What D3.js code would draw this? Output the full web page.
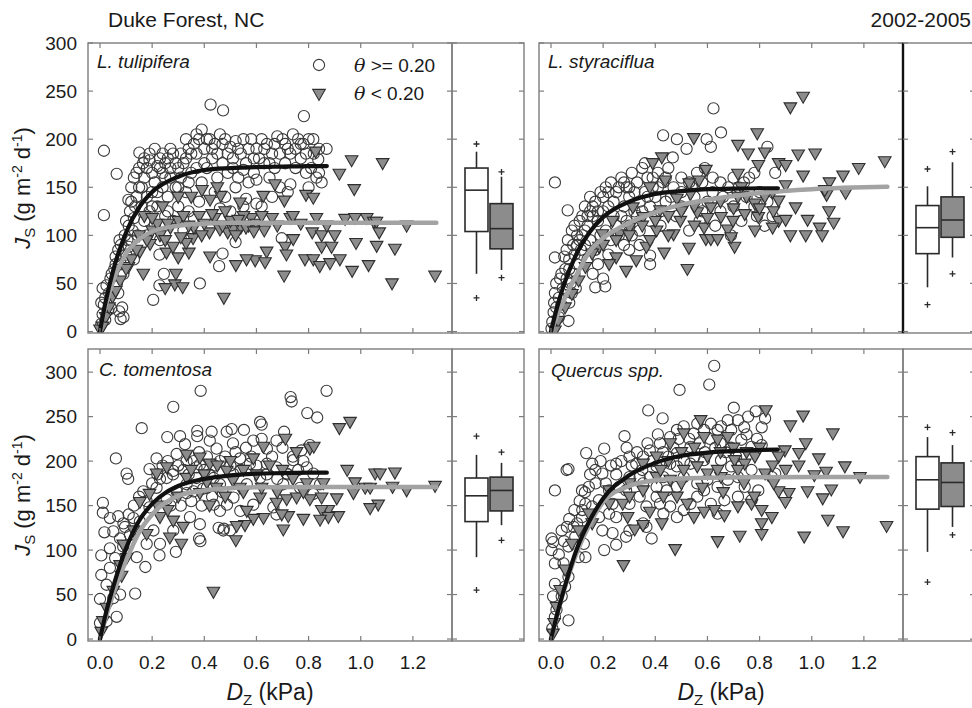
<!DOCTYPE html>
<html><head><meta charset="utf-8">
<script src="https://cdn.jsdelivr.net/npm/d3@7"></script>
<style>
body{margin:0;background:#fff}
svg{display:block}
text{font-family:"Liberation Sans",Arial,Helvetica,sans-serif;fill:#1a1a1a}
</style>
</head><body>
<svg id="chart" width="972" height="708"></svg>
<script>
// ---------- DATA ----------
const panelNames = ["L. tulipifera", "L. styraciflua", "C. tomentosa", "Quercus spp."];
const legendLabels = ["\u03B8 >= 0.20", "\u03B8 < 0.20"];
const xTicks = [0, 0.2, 0.4, 0.6, 0.8, 1.0, 1.2];
const yTicks = [0, 50, 100, 150, 200, 250, 300];

// [D (kPa), Js] for theta >= 0.20 (circles) and theta < 0.20 (triangles)
const tulipWet = [[0.005,8],[0.01,18],[0.015,28],[0.02,35],[0.01,45],[0.025,48],[0.005,30],[0.03,22],[0.035,40],[0.04,55],[0.045,60],[0.02,12],[0.015,121],[0.015,188],[0.043,24],[0.074,21],[0.079,13],
[0.055,65],[0.06,78],[0.065,50],[0.07,85],[0.075,95],[0.08,70],[0.085,25],[0.09,15],[0.095,100],[0.1,80],[0.064,164],[0.07,40],[0.09,60],
[0.105,95],[0.11,110],[0.115,125],[0.12,135],[0.125,105],[0.13,118],[0.135,130],[0.14,140],[0.145,100],[0.11,88],[0.13,75],[0.109,137],[0.15,150],[0.151,186],
[0.16,150],[0.17,160],[0.18,170],[0.19,178],[0.2,165],[0.21,155],[0.22,172],[0.23,180],[0.24,185],[0.16,130],[0.18,140],[0.2,145],[0.22,130],[0.24,150],[0.17,115],[0.19,125],[0.21,110],[0.23,95],[0.25,120],[0.18,100],[0.204,33],[0.228,48],[0.228,80],[0.245,60],[0.24,165],[0.25,175],[0.165,175],
[0.26,180],[0.28,185],[0.3,170],[0.32,175],[0.34,190],[0.36,195],[0.38,200],[0.39,210],[0.27,160],[0.29,150],[0.31,160],[0.33,145],[0.35,165],[0.37,170],[0.39,155],[0.26,140],[0.3,130],[0.34,125],[0.38,135],[0.28,115],[0.32,105],[0.36,118],[0.4,190],[0.4,175],[0.27,170],[0.33,180],[0.37,185],[0.383,50],[0.35,100],
[0.42,200],[0.44,195],[0.46,205],[0.48,200],[0.5,192],[0.52,198],[0.54,185],[0.56,175],[0.58,200],[0.6,190],[0.41,170],[0.43,180],[0.45,160],[0.47,175],[0.49,165],[0.51,170],[0.53,160],[0.55,168],[0.57,155],[0.59,165],[0.44,145],[0.48,140],[0.52,150],[0.56,138],[0.6,158],[0.424,236],[0.472,230],[0.457,68],[0.47,81],[0.52,93],[0.5,125],[0.46,128],[0.55,130],
[0.62,200],[0.64,195],[0.66,185],[0.68,203],[0.7,200],[0.72,190],[0.74,205],[0.76,200],[0.78,195],[0.8,200],[0.82,185],[0.84,190],[0.869,190],[0.63,175],[0.67,170],[0.71,175],[0.75,170],[0.79,165],[0.83,160],[0.85,155],[0.65,160],[0.69,150],[0.73,153],[0.77,180],[0.81,170],[0.84,165],[0.782,224],[0.697,97],[0.62,130],[0.6,133],[0.66,140],[0.72,145],[0.8,150],[0.818,200],[0.837,179],
[0.12,150],[0.13,160],[0.14,165],[0.15,170],[0.17,180],[0.19,185],[0.21,190],[0.23,170],[0.25,160],[0.27,190],[0.29,175],[0.31,185],[0.33,200],[0.35,185],[0.37,205],[0.41,200],[0.43,190],[0.45,185],[0.47,195],[0.49,185],[0.51,180],[0.53,190],[0.55,200],[0.57,190],[0.59,180],[0.61,180],[0.63,190],[0.65,175],[0.67,195],[0.69,185],[0.71,195],[0.73,185],[0.75,190],[0.77,195],[0.79,185],[0.2,130],[0.22,145],[0.26,125],[0.3,150],[0.34,155],[0.1,115],[0.12,95],[0.08,90],[0.06,70]];
const tulipDry = [[0.827,187],[0.965,178],[1.084,175],[0.918,164],[0.975,148],[0.671,153],[0.707,136],[0.79,142],[0.818,139],[0.626,141],[0.537,134],[0.463,141],[0.422,137],[0.391,147],[0.94,117],[0.978,118],[1.023,118],[1.05,114],[1.06,114],[1.176,110],[1.071,103],[0.814,103],[0.85,100],[0.9,100],[0.982,92],[1.061,89],[1.131,86],[0.85,88],[0.888,88],[0.741,96],[0.71,88],[0.715,80],[0.639,83],[0.595,74],[0.633,72],[0.562,75],[0.521,69],[0.786,75],[0.818,75],[0.843,68],[0.882,71],[0.92,75],[0.967,63],[1.03,69],[1.12,50],[1.285,58],[0.706,58],[0.475,35],[0.287,49],[0.317,46],[0.25,45],[0.291,60],[0.3,77],[0.341,82],[0.255,82],[0.166,60],[0.357,97],[0.422,78],
[0.42,103],[0.46,106],[0.49,103],[0.51,106],[0.54,108],[0.57,110],[0.73,118],[0.74,120],[0.66,118],[0.58,118],[0.5,115],[0.55,120],
[0.0,2],[0.022,15],[0.048,36],[0.077,53],[0.109,67],[0.153,83],[0.192,91],[0.23,100],
[0.15,100],[0.18,95],[0.2,105],[0.22,112],[0.25,95],[0.27,108],[0.3,115],[0.32,120],[0.28,88],[0.33,92],[0.36,108],[0.38,120],[0.4,112],[0.44,118],[0.47,110],[0.53,116],[0.56,108],[0.6,112],[0.63,105],[0.12,75],[0.14,85],[0.1,65],[0.06,42],[0.035,25],[0.01,5],[0.17,120],[0.24,130],[0.35,140],[0.45,150],[0.3,140],
[0.2,118],[0.26,112],[0.31,98],[0.34,110],[0.39,100],[0.43,122],[0.48,125],[0.52,100],[0.59,104],[0.62,120],[0.68,110],[0.77,112],[0.83,118],[0.87,110]];

const styracWet = [[0.002,3],[0.005,10],[0.01,20],[0.012,30],[0.015,40],[0.02,50],[0.02,25],[0.03,35],[0.035,55],[0.04,60],[0.045,45],[0.015,77],[0.015,155],[0.03,15],[0.04,28],[0.051,78],
[0.055,65],[0.06,85],[0.065,95],[0.07,75],[0.075,50],[0.08,105],[0.085,90],[0.09,110],[0.1,100],[0.11,115],[0.12,120],[0.064,126],[0.067,11],[0.09,60],[0.1,70],[0.115,85],[0.07,30],[0.08,40],[0.095,45],
[0.13,130],[0.15,140],[0.17,135],[0.19,145],[0.21,150],[0.23,155],[0.25,145],[0.14,110],[0.16,120],[0.18,115],[0.2,125],[0.22,130],[0.24,120],[0.13,90],[0.15,95],[0.17,85],[0.19,100],[0.21,105],[0.23,95],[0.16,60],[0.18,70],[0.2,55],[0.17,46],[0.208,47],[0.14,75],[0.22,80],[0.25,110],
[0.27,160],[0.29,150],[0.31,165],[0.33,155],[0.35,170],[0.37,160],[0.39,150],[0.36,175],[0.41,165],[0.43,155],[0.45,170],[0.28,130],[0.3,140],[0.32,125],[0.34,135],[0.36,145],[0.38,130],[0.4,140],[0.42,125],[0.44,135],[0.26,100],[0.3,110],[0.34,105],[0.38,115],[0.42,110],[0.38,70],[0.38,79],[0.3,85],[0.34,90],[0.43,204],[0.28,90],
[0.467,181],[0.483,200],[0.52,190],[0.597,200],[0.613,192],[0.623,232],[0.652,207],[0.47,150],[0.5,160],[0.53,155],[0.56,165],[0.59,170],[0.62,160],[0.65,155],[0.68,150],[0.5,130],[0.55,140],[0.6,135],[0.65,125],[0.7,130],[0.48,120],[0.57,115],[0.63,110],[0.53,105],[0.69,100],[0.58,125],
[0.72,150],[0.75,140],[0.78,130],[0.8,145],[0.83,135],[0.85,120],[0.83,192],[0.76,160],[0.79,120],[0.73,115],[0.82,110],[0.86,165],
[0.06,55],[0.07,65],[0.09,80],[0.1,90],[0.11,95],[0.12,100],[0.13,105],[0.14,120],[0.15,125],[0.16,130],[0.18,125],[0.2,140],[0.22,145],[0.24,135],[0.26,150],[0.28,155],[0.3,150],[0.32,145],[0.27,120],[0.29,115],[0.31,100],[0.33,120],[0.35,125],[0.37,140],[0.39,160],[0.41,150],[0.44,160],[0.46,140],[0.5,145],[0.54,150],[0.58,155],[0.62,145],[0.66,140],[0.7,160],[0.74,155],[0.78,165]];
const styracDry = [[0.967,244],[0.918,233],[0.548,201],[0.791,206],[0.717,194],[0.756,185],[0.82,186],[0.948,184],[1.013,185],[1.28,177],[1.18,170],[1.12,162],[1.068,155],[1.057,142],[1.13,144],[0.967,162],[0.9,152],[0.873,175],[0.9,173],[0.795,173],[0.717,164],[0.425,181],[0.39,175],[0.594,168],[0.568,157],[0.53,154],[1.066,125],[1.084,113],[0.984,116],[1.03,108],[1.04,100],[0.977,100],[0.918,100],[0.873,115],[0.9,116],[0.853,125],[0.85,108],[0.782,105],[0.704,88],[0.529,87],[0.523,65],[0.594,96],[0.613,96],[0.639,96],[0.678,106],[0.698,115],[0.434,82],[0.288,63],[0.327,74],[0.25,77],[0.223,70],[0.366,88],[0.47,101],[0.405,105],[0.496,115],[0.561,124],[0.613,129],[0.652,119],[0.743,122],[0.782,133],[0.82,140],[0.717,140],[0.483,138],[0.535,143],[0.379,150],[0.438,157],[0.353,119],[0.301,108],[0.262,101],[0.184,88],[0.158,81],[0.132,67],[0.106,53],[0.08,39],[0.054,25],[0.028,11],[0.015,1],[0.197,101],[0.236,115],[0.314,129],[0.418,126],[0.509,129],[0.587,108],[0.691,98],[0.73,150],[0.873,136],[0.938,129],[1.05,147],[0.795,119],
[0.2,90],[0.25,95],[0.3,100],[0.35,110],[0.4,115],[0.45,120],[0.5,125],[0.55,130],[0.6,118],[0.65,135],[0.7,128],[0.75,140],[0.8,128],[0.85,145],[0.45,100],[0.55,110],[0.38,95]];

const tomentWet = [[0.386,279],[0.281,261],[0.16,237],[0.061,203],[0.731,272],[0.735,267],[0.869,279],[0.795,254],[0.833,249],[0.614,244],[0.62,241],[0.552,235],[0.505,236],[0.486,233],[0.428,233],[0.373,234],[0.373,228],[0.258,227],[0.307,228],[0.326,219],[0.706,233],[0.677,223],[0.011,153],[0.011,142],[0.017,120],[0.005,94],[0.005,72],[0.0,45],[0.0,18],[0.025,20],[0.064,25],[0.135,51],[0.174,81],[0.228,94],[0.291,98],[0.38,113],[0.385,110],[0.475,124],[0.455,125],[0.07,138],[0.102,186],[0.108,180],[0.217,203],[0.19,191],[0.23,180],[0.294,208],[0.332,200],[0.37,193],[0.41,205],[0.447,214],[0.51,220],[0.537,203],[0.588,223],[0.64,214],[0.575,197],[0.51,186],[0.46,174],[0.396,169],[0.332,164],[0.256,157],[0.19,148],[0.153,132],[0.115,117],[0.089,104],[0.058,91],[0.038,80],[0.025,61],[0.051,46],[0.077,50],[0.038,136],[0.051,121],[0.038,102],[0.077,113],[0.096,126],[0.128,136],[0.166,166],[0.179,155],[0.217,170],[0.256,181],[0.294,166],[0.332,174],[0.37,181],[0.41,170],[0.436,151],[0.487,151],[0.46,144],[0.512,159],[0.538,144],[0.473,122],[0.499,122],[0.383,129],[0.345,137],[0.281,122],[0.23,107],[0.205,122],[0.179,107],[0.141,92],[0.281,189],[0.358,166],[0.563,174],[0.614,181],[0.64,197],[0.677,193],[0.716,186],[0.741,201],[0.793,193],[0.818,186],[0.844,174],[0.818,163],[0.767,170],[0.703,174],[0.665,148],[0.677,140],[0.588,151],[0.436,181],[0.383,196],[0.772,212],[0.805,218],[0.421,223],
[0.2,175],[0.22,185],[0.24,195],[0.26,200],[0.28,185],[0.3,195],[0.32,190],[0.34,185],[0.36,200],[0.38,210],[0.4,190],[0.42,185],[0.44,195],[0.46,200],[0.48,205],[0.5,195],[0.52,210],[0.54,190],[0.56,215],[0.58,205],[0.6,195],[0.62,225],[0.64,185],[0.66,205],[0.68,180],[0.7,215],[0.72,185],[0.74,205],[0.76,190],[0.78,200],[0.15,160],[0.13,150],[0.11,140],[0.09,130],[0.27,150],[0.31,150],[0.35,155],[0.39,150],[0.43,160],[0.47,165]];
const tomentDry = [[0.959,244],[0.918,237],[0.711,225],[0.805,214],[0.82,216],[0.754,210],[0.948,190],[1.055,186],[1.074,186],[1.131,187],[1.122,171],[1.176,167],[1.285,172],[1.017,170],[1.036,170],[0.972,164],[0.908,158],[1.067,151],[1.036,147],[0.914,138],[0.876,145],[0.85,145],[0.876,137],[0.844,134],[0.78,135],[0.703,123],[0.722,138],[0.697,140],[0.627,136],[0.588,135],[0.556,128],[0.524,127],[0.521,111],[0.563,144],[0.677,153],[0.716,157],[0.754,159],[0.805,157],[0.85,159],[0.978,176],[0.857,175],[0.793,175],[0.435,53],[0.319,126],[0.312,107],[0.268,114],[0.179,118],[0.281,133],[0.23,137],[0.383,204],[0.332,207],[0.421,197],[0.486,189],[0.588,203],[0.627,216],[0.51,178],[0.447,170],[0.383,164],[0.332,181],[0.256,193],[0.217,186],[0.153,154],[0.128,122],[0.089,106],[0.083,71],[0.051,54],[0.025,35],[0.011,20],[0.005,8],[0.102,91],[0.077,83],[0.19,163],[0.614,159],[0.537,170],[0.41,176],
[0.35,190],[0.4,185],[0.45,195],[0.5,200],[0.55,190],[0.6,185],[0.65,195],[0.7,190],[0.42,150],[0.48,160],[0.55,165],[0.62,170],[0.68,165],[0.74,180],[0.78,165],[0.3,160],[0.26,145],[0.22,150]];

const quercWet = [[0.626,307],[0.607,286],[0.493,280],[0.373,257],[0.428,248],[0.701,260],[0.785,256],[0.821,248],[0.741,238],[0.808,238],[0.015,167],[0.067,191],[0.06,190],[0.135,209],[0.204,214],[0.282,228],[0.386,113],[0.204,100],[0.25,106],[0.067,21],[0.005,12],[0.002,113],[0.008,109],[0.002,100],[0.015,85],[0.015,62],[0.008,48],[0.021,33],[0.015,25],[0.041,48],[0.054,59],[0.067,70],[0.048,85],[0.067,104],[0.093,115],[0.106,92],[0.132,92],[0.126,107],[0.041,122],[0.061,126],[0.087,126],[0.119,137],[0.132,152],[0.158,149],[0.184,156],[0.236,152],[0.223,167],[0.262,171],[0.301,182],[0.301,152],[0.34,160],[0.366,149],[0.418,152],[0.431,141],[0.457,149],[0.483,137],[0.509,145],[0.535,152],[0.561,160],[0.587,167],[0.353,130],[0.301,122],[0.25,137],[0.197,122],[0.184,137],[0.327,197],[0.353,205],[0.379,212],[0.418,220],[0.457,227],[0.483,235],[0.509,239],[0.548,231],[0.587,235],[0.613,242],[0.652,239],[0.678,246],[0.691,235],[0.73,224],[0.769,216],[0.808,218],[0.86,186],[0.847,182],[0.769,190],[0.717,182],[0.678,179],[0.639,171],[0.6,179],[0.561,175],[0.509,182],[0.483,194],[0.457,197],[0.405,194],[0.379,182],[0.34,182],[0.301,205],[0.25,197],[0.197,186],[0.171,175],[0.145,171],[0.119,167],[0.158,197],[0.405,171],[0.483,171],[0.535,197],[0.587,201],[0.652,201],[0.691,194],[0.743,171],[0.795,167],[0.717,160],[0.665,156],[0.613,152],[0.639,141],[0.769,156],[0.288,115],[0.236,119],[0.366,126],[0.405,160],[0.444,167],[0.223,141],[0.288,167],[0.353,175],[0.431,182],[0.483,209],[0.535,216],[0.561,242],[0.639,235],[0.717,246],[0.756,250],
[0.03,95],[0.05,110],[0.07,135],[0.09,145],[0.11,155],[0.13,165],[0.15,185],[0.17,190],[0.19,200],[0.21,175],[0.23,195],[0.25,185],[0.27,200],[0.29,215],[0.31,195],[0.33,210],[0.35,190],[0.37,220],[0.39,200],[0.41,230],[0.43,210],[0.45,205],[0.47,215],[0.49,225],[0.51,200],[0.53,225],[0.55,205],[0.57,220],[0.59,210],[0.61,225],[0.63,215],[0.65,220],[0.67,210],[0.69,215],[0.71,205],[0.75,230],[0.79,225],[0.1,130],[0.12,145]];
const quercDry = [[0.824,257],[0.967,251],[0.918,240],[1.081,231],[0.574,246],[0.977,220],[0.951,209],[0.897,212],[0.873,205],[1.027,203],[1.127,194],[1.055,188],[1.01,184],[1.185,182],[0.984,166],[1.042,158],[1.075,168],[0.912,164],[0.873,166],[0.899,154],[0.854,175],[1.062,134],[1.12,121],[1.287,127],[0.971,115],[0.808,118],[0.724,116],[0.639,110],[0.476,101],[0.278,83],[0.321,123],[0.808,130],[0.847,137],[0.808,145],[0.769,152],[0.717,149],[0.665,139],[0.626,145],[0.587,143],[0.548,137],[0.522,152],[0.483,160],[0.431,160],[0.425,130],[0.379,143],[0.353,128],[0.294,137],[0.275,152],[0.223,152],[0.145,141],[0.106,122],[0.08,107],[0.054,78],[0.035,55],[0.021,36],[0.012,18],[0.008,6],[0.158,130],[0.223,167],[0.301,175],[0.353,197],[0.405,205],[0.457,220],[0.509,231],[0.587,227],[0.639,224],[0.678,227],[0.704,201],[0.743,197],[0.782,205],[0.717,190],[0.652,182],[0.6,186],[0.561,194],[0.509,190],[0.457,179],[0.405,182],[0.353,167],[0.301,160],[0.639,190],[0.821,186],
[0.45,200],[0.5,210],[0.55,215],[0.6,205],[0.65,210],[0.7,215],[0.75,210],[0.8,215],[0.85,195],[0.9,190],[0.95,195],[0.42,190],[0.5,175],[0.58,170],[0.66,165],[0.74,175],[0.78,160]];

// fitted curves: D values and Js values
const fitWetD = [0, 0.02, 0.05, 0.1, 0.15, 0.2, 0.3, 0.4, 0.5, 0.6, 0.7, 0.8, 0.87];
const fitDryD = [0, 0.02, 0.05, 0.1, 0.15, 0.2, 0.3, 0.4, 0.5, 0.6, 0.8, 1.0, 1.29];
const tulipFitWet = [0, 29, 63, 103, 129, 145, 161, 168, 170, 171, 171.5, 172, 172];
const tulipFitDry = [0, 25, 52, 81, 96, 104, 110, 112, 113, 113, 113, 113, 113];
const styracFitWet = [0, 22, 49, 82, 104, 119, 135, 143, 146, 148, 148.5, 149, 149];
const styracFitDry = [0, 14, 33, 60, 84, 97, 113, 124, 132, 137, 144, 148, 150.5];
const tomentFitWet = [0, 26, 58, 102, 133, 152, 172, 180, 184, 186, 186.5, 187, 187];
const tomentFitDry = [0, 22, 50, 88, 120, 140, 161, 167, 169.5, 170.5, 171, 171, 171];
const quercFitWet = [0, 24, 56, 102, 134, 158, 184, 198, 206, 209.5, 211.5, 212.5, 213];
const quercFitDry = [0, 24, 55, 98, 130, 154, 172, 178.5, 180.5, 181.3, 181.8, 182, 182];

// box plots: [low outlier, low whisker, Q1, median, Q3, high whisker, high outlier]
const boxGroups = ["wet", "dry"];
const tulipBoxWet = [35, 60, 104, 147, 170, 187, 195];
const tulipBoxDry = [56, 64, 86, 107, 133, 161, 166];
const styracBoxWet = [28, 46, 81, 108, 131, 151, 169];
const styracBoxDry = [60, 77, 98, 116, 140, 176, 187];
const tomentBoxWet = [55, 92, 132, 161, 181, 207, 228];
const tomentBoxDry = [111, 128, 144, 167, 182, 198, 210];
const quercBoxWet = [64, 98, 146, 179, 205, 227, 238];
const quercBoxDry = [117, 126, 149, 176, 198, 218, 232];

// ---------- DRAWING ----------
const svg = d3.select("#chart");
const panels = [
  {wet: tulipWet, dry: tulipDry, fw: tulipFitWet, fd: tulipFitDry, bw: tulipBoxWet, bd: tulipBoxDry},
  {wet: styracWet, dry: styracDry, fw: styracFitWet, fd: styracFitDry, bw: styracBoxWet, bd: styracBoxDry},
  {wet: tomentWet, dry: tomentDry, fw: tomentFitWet, fd: tomentFitDry, bw: tomentBoxWet, bd: tomentBoxDry},
  {wet: quercWet, dry: quercDry, fw: quercFitWet, fd: quercFitDry, bw: quercBoxWet, bd: quercBoxDry}
];
const colX = [88, 539];
const scatterW = 364, boxW = 72;
const rowY = [{top: 43, bottom: 333, dom: [-1.5, 300]}, {top: 349, bottom: 641, dom: [-2.2, 326]}];
const frameCol = "#7d7d7d";
const tickLen = 5;
const triPath = "M-6.3,-4.6L6.3,-4.6L0,6.4Z";
const circR = 5.6;
const labelX = [97, 548, 99, 551];
const labelY = [68, 68, 376, 377];

svg.append("defs");
panels.forEach((p, i) => {
  const row = Math.floor(i / 2), col = i % 2;
  const R = rowY[row];
  const x0 = colX[col];
  const x = d3.scaleLinear().domain([-0.046, 1.35]).range([x0, x0 + scatterW]);
  const y = d3.scaleLinear().domain(R.dom).range([R.bottom, R.top]);
  const g = svg.append("g");

  svg.select("defs").append("clipPath").attr("id", "clip" + i)
    .append("rect").attr("x", x0).attr("y", R.top).attr("width", scatterW).attr("height", R.bottom - R.top);
  const pg = g.append("g").attr("clip-path", `url(#clip${i})`);

  pg.selectAll("circle.w").data(p.wet).enter().append("circle")
    .attr("cx", d => x(d[0])).attr("cy", d => y(d[1])).attr("r", circR)
    .attr("fill", "none").attr("stroke", "#3a3a3a").attr("stroke-width", 1.1);
  pg.selectAll("path.d").data(p.dry).enter().append("path")
    .attr("d", triPath).attr("transform", d => `translate(${x(d[0])},${y(d[1])})`)
    .attr("fill", "#8c8c8c").attr("stroke", "#2e2e2e").attr("stroke-width", 1.1);

  const line = d3.line().x(d => x(d[0])).y(d => y(d[1])).curve(d3.curveMonotoneX);
  pg.append("path").datum(fitDryD.map((d, k) => [d, p.fd[k]]))
    .attr("d", line).attr("fill", "none").attr("stroke", "#a3a3a3").attr("stroke-width", 4.5).attr("stroke-linecap", "round");
  pg.append("path").datum(fitWetD.map((d, k) => [d, p.fw[k]]))
    .attr("d", line).attr("fill", "none").attr("stroke", "#111").attr("stroke-width", 4.2).attr("stroke-linecap", "round");

  g.append("rect").attr("x", x0).attr("y", R.top).attr("width", scatterW).attr("height", R.bottom - R.top)
    .attr("fill", "none").attr("stroke", frameCol).attr("stroke-width", 1.4);
  if (i === 1) {
    g.append("line").attr("x1", x0 + scatterW).attr("x2", x0 + scatterW).attr("y1", R.top).attr("y2", R.bottom)
      .attr("stroke", "#111").attr("stroke-width", 2.2);
  }
  xTicks.forEach(t => {
    g.append("line").attr("x1", x(t)).attr("x2", x(t)).attr("y1", R.bottom).attr("y2", R.bottom - tickLen).attr("stroke", frameCol).attr("stroke-width", 1.2);
    g.append("line").attr("x1", x(t)).attr("x2", x(t)).attr("y1", R.top).attr("y2", R.top + tickLen).attr("stroke", frameCol).attr("stroke-width", 1.2);
  });
  yTicks.forEach(t => {
    g.append("line").attr("x1", x0).attr("x2", x0 + tickLen).attr("y1", y(t)).attr("y2", y(t)).attr("stroke", frameCol).attr("stroke-width", 1.2);
    g.append("line").attr("x1", x0 + scatterW).attr("x2", x0 + scatterW - tickLen).attr("y1", y(t)).attr("y2", y(t)).attr("stroke", frameCol).attr("stroke-width", 1.2);
  });
  if (col === 0) {
    yTicks.forEach(t => {
      g.append("text").attr("x", 77).attr("y", y(t)).attr("dy", "0.36em").attr("text-anchor", "end")
        .attr("font-size", 19).text(t);
    });
    const yt = g.append("text").attr("transform", `translate(30,${(R.top + R.bottom) / 2}) rotate(-90)`)
      .attr("text-anchor", "middle").attr("font-size", 22);
    yt.append("tspan").attr("font-style", "italic").text("J");
    yt.append("tspan").attr("font-size", 15).attr("dy", 5).text("S");
    yt.append("tspan").attr("dy", -5).text(" (g m");
    yt.append("tspan").attr("font-size", 14).attr("dy", -8).text("-2");
    yt.append("tspan").attr("dy", 8).text(" d");
    yt.append("tspan").attr("font-size", 14).attr("dy", -8).text("-1");
    yt.append("tspan").attr("dy", 8).text(")");
  }
  if (row === 1) {
    xTicks.forEach(t => {
      g.append("text").attr("x", x(t)).attr("y", 669).attr("text-anchor", "middle")
        .attr("font-size", 19).text(d3.format(".1f")(t));
    });
    const xt = g.append("text").attr("x", x0 + scatterW / 2).attr("y", 700).attr("text-anchor", "middle").attr("font-size", 23);
    xt.append("tspan").attr("font-style", "italic").text("D");
    xt.append("tspan").attr("font-size", 15).attr("dy", 5).text("Z");
    xt.append("tspan").attr("dy", -5).text(" (kPa)");
  }
  g.append("text").attr("x", labelX[i]).attr("y", labelY[i]).attr("font-size", 19).attr("font-style", "italic").text(panelNames[i]);

  const bx0 = x0 + scatterW;
  g.append("rect").attr("x", bx0).attr("y", R.top).attr("width", boxW).attr("height", R.bottom - R.top)
    .attr("fill", "none").attr("stroke", frameCol).attr("stroke-width", 1.4);
  if (i === 1) {
    g.append("line").attr("x1", bx0).attr("x2", bx0).attr("y1", R.top).attr("y2", R.bottom)
      .attr("stroke", "#111").attr("stroke-width", 2.2);
  }
  yTicks.forEach(t => {
    g.append("line").attr("x1", bx0).attr("x2", bx0 + tickLen).attr("y1", y(t)).attr("y2", y(t)).attr("stroke", frameCol).attr("stroke-width", 1.2);
    g.append("line").attr("x1", bx0 + boxW).attr("x2", bx0 + boxW - tickLen).attr("y1", y(t)).attr("y2", y(t)).attr("stroke", frameCol).attr("stroke-width", 1.2);
  });
  const bxScale = d3.scaleBand().domain(boxGroups).range([bx0 + 13, bx0 + 61]).paddingInner(0.08);
  [[p.bw, "#ffffff"], [p.bd, "#8c8c8c"]].forEach(([s, fill], k) => {
    const bx = bxScale(boxGroups[k]), bwid = bxScale.bandwidth(), cx = bx + bwid / 2;
    const bg = g.append("g").attr("stroke", "#2a2a2a").attr("stroke-width", 1.6);
    bg.append("line").attr("x1", cx).attr("x2", cx).attr("y1", y(s[1])).attr("y2", y(s[2]));
    bg.append("line").attr("x1", cx).attr("x2", cx).attr("y1", y(s[4])).attr("y2", y(s[5]));
    bg.append("rect").attr("x", bx).attr("width", bwid).attr("y", y(s[4])).attr("height", y(s[2]) - y(s[4])).attr("fill", fill);
    bg.append("line").attr("x1", bx).attr("x2", bx + bwid).attr("y1", y(s[3])).attr("y2", y(s[3]));
    [s[0], s[6]].forEach(v => {
      bg.append("path").attr("d", `M${cx - 3},${y(v)}H${cx + 3}M${cx},${y(v) - 3}V${y(v) + 3}`).attr("stroke-width", 1.3);
    });
  });

  if (i === 0) {
    g.append("circle").attr("cx", 319).attr("cy", 65).attr("r", circR).attr("fill", "none").attr("stroke", "#3a3a3a").attr("stroke-width", 1.1);
    g.append("path").attr("d", triPath).attr("transform", "translate(319,94)").attr("fill", "#8c8c8c").attr("stroke", "#2e2e2e").attr("stroke-width", 1.1);
    [72, 100].forEach((yy, k) => {
      const t = g.append("text").attr("x", 354).attr("y", yy).attr("font-size", 19);
      t.append("tspan").attr("font-style", "italic").attr("font-family", "DejaVu Serif, serif").text("\u03B8");
      t.append("tspan").text(legendLabels[k].slice(1));
    });
  }
});

svg.append("text").attr("x", 108).attr("y", 27).attr("font-size", 21).text("Duke Forest, NC");
svg.append("text").attr("x", 971).attr("y", 27).attr("text-anchor", "end").attr("font-size", 21).text("2002-2005");
</script>
</body></html>
